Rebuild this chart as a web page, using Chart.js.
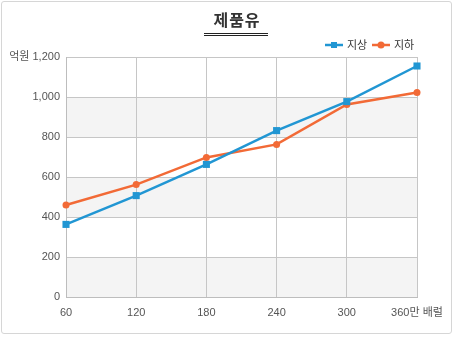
<!DOCTYPE html>
<html>
<head>
<meta charset="utf-8">
<script src="https://cdn.jsdelivr.net/npm/chart.js@4"></script>
<style>
  html, body { margin: 0; padding: 0; background: #fff; }
  #frame {
    position: absolute; left: 1px; top: 1px; width: 451px; height: 333px;
    border: 1px solid #d6d6d6; border-radius: 3px; box-sizing: border-box;
  }
  #wrap { position: absolute; left: 0; top: 0; width: 455px; height: 338px; }
</style>
</head>
<body>
<div id="frame"></div>
<div id="wrap"><canvas id="myChart" width="455" height="338"></canvas></div>
<script>
var title = '제품유';
var categories = ['60', '120', '180', '240', '300', '360만 배럴'];
var yUnit = '억원';
var ground = [363, 507, 663, 832, 977, 1155];      // 지상
var underground = [460, 562, 698, 763, 963, 1023]; // 지하
var seriesNames = ['지상', '지하'];

var blue = '#2196d3';
var orange = '#f26a36';
var tickFont = { family: '"Liberation Sans", "Noto Sans CJK KR", sans-serif', size: 11 };

// gray bands behind the grid
var bands = {
  id: 'bands',
  beforeDraw: function(chart) {
    var c = chart.ctx, a = chart.chartArea, y = chart.scales.y;
    c.save();
    c.fillStyle = '#f4f4f4';
    [[800, 1000], [400, 600], [0, 200]].forEach(function(b) {
      var top = y.getPixelForValue(b[1]), bot = y.getPixelForValue(b[0]);
      c.fillRect(a.left, top, a.right - a.left, bot - top);
    });
    c.restore();
  }
};

// title and legend
var extras = {
  id: 'extras',
  afterDraw: function(chart) {
    var c = chart.ctx;
    c.save();
    c.font = 'bold 16px "Noto Sans CJK KR", sans-serif';
    c.fillStyle = '#333';
    c.textAlign = 'center';
    c.textBaseline = 'middle';
    if ('letterSpacing' in c) c.letterSpacing = '1px';
    c.fillText(title, 237, 20);
    if ('letterSpacing' in c) c.letterSpacing = '0px';
    c.strokeStyle = '#222';
    c.lineWidth = 1;
    c.beginPath();
    c.moveTo(204, 33.5); c.lineTo(268, 33.5);
    c.moveTo(204, 35.5); c.lineTo(268, 35.5);
    c.stroke();

    var items = [
      { x: 325, color: blue, square: true, text: seriesNames[0] },
      { x: 372, color: orange, square: false, text: seriesNames[1] }
    ];
    c.font = '11px "Noto Sans CJK KR", sans-serif';
    c.textAlign = 'left';
    items.forEach(function(it) {
      var ly = 45;
      c.strokeStyle = it.color;
      c.lineWidth = 2.5;
      c.beginPath(); c.moveTo(it.x, ly); c.lineTo(it.x + 18, ly); c.stroke();
      c.fillStyle = it.color;
      if (it.square) c.fillRect(it.x + 6, ly - 3, 6, 6);
      else { c.beginPath(); c.arc(it.x + 9, ly, 3.5, 0, Math.PI * 2); c.fill(); }
      c.fillStyle = '#333';
      c.fillText(it.text, it.x + 22, ly);
    });
    c.restore();
  }
};

var ctx = document.getElementById('myChart').getContext('2d');
var chart = new Chart(ctx, {
  type: 'line',
  data: {
    labels: categories,
    datasets: [{
      label: seriesNames[0],
      data: ground,
      borderColor: blue,
      backgroundColor: blue,
      borderWidth: 2.5,
      pointStyle: 'rect',
      pointRadius: 5,
      pointBorderWidth: 0,
      pointHoverRadius: 5,
      clip: false
    }, {
      label: seriesNames[1],
      data: underground,
      borderColor: orange,
      backgroundColor: orange,
      borderWidth: 2.5,
      pointStyle: 'circle',
      pointRadius: 3.5,
      pointBorderWidth: 0,
      pointHoverRadius: 3.5,
      clip: false
    }]
  },
  options: {
    responsive: false,
    animation: false,
    events: [],
    layout: { padding: { top: 57, right: 38, left: 0, bottom: 0 } },
    plugins: {
      legend: { display: false },
      title: { display: false },
      tooltip: { enabled: false }
    },
    scales: {
      x: {
        offset: false,
        grid: { color: '#c6c6c6', drawTicks: false },
        border: { color: '#bdbdbd' },
        ticks: { padding: 9, color: '#555', maxRotation: 0, autoSkip: false, font: tickFont },
        afterFit: function(scale) { scale.height = 41; }
      },
      y: {
        min: 0, max: 1200,
        grid: { color: '#c6c6c6', drawTicks: false },
        border: { color: '#bdbdbd' },
        ticks: {
          stepSize: 200, padding: 6, color: '#555', font: tickFont,
          callback: function(v) {
            var s = v.toLocaleString('en-US');
            return v === 1200 ? yUnit + ' ' + s : s;
          }
        },
        afterFit: function(scale) { scale.width = 66; }
      }
    }
  },
  plugins: [bands, extras]
});
</script>
</body>
</html>
